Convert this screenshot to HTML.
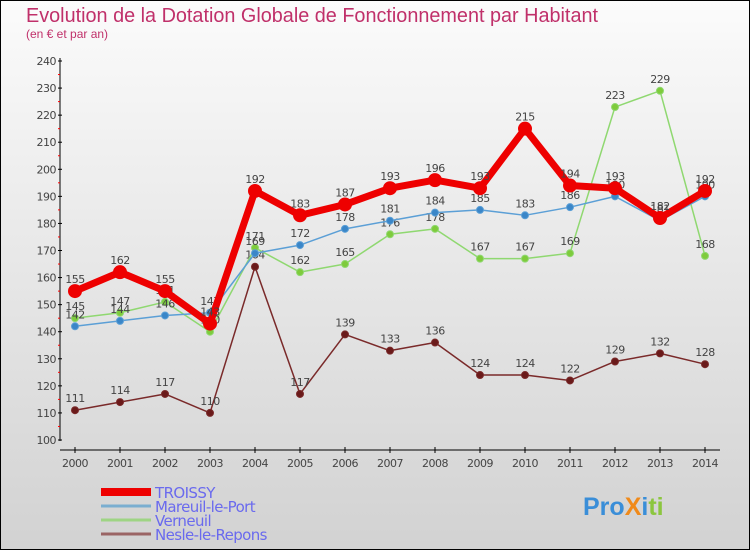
<!DOCTYPE html>
<html><head><meta charset="utf-8"><style>
body{margin:0}
#c{width:750px;height:550px;position:relative;box-sizing:border-box;border:1px solid #000;background:linear-gradient(#fbfbfb,#d2d2d2);font-family:"DejaVu Sans","Liberation Sans",sans-serif;overflow:hidden}
</style></head><body>
<div id="c">
<svg id="s" width="750" height="550" style="position:absolute;left:-1px;top:-1px">
<text x="26" y="22" font-size="20" fill="#c0306a" font-family="Liberation Sans, sans-serif" textLength="572" lengthAdjust="spacingAndGlyphs">Evolution de la Dotation Globale de Fonctionnement par Habitant</text>
<text x="26" y="38" font-size="12" fill="#c0306a" font-family="Liberation Sans, sans-serif">(en € et par an)</text>
</svg>
</div>
<script>
const years=[2000,2001,2002,2003,2004,2005,2006,2007,2008,2009,2010,2011,2012,2013,2014];
const troissy=[155,162,155,143,192,183,187,193,196,193,215,194,193,182,192];
const mareuil=[142,144,146,147,169,172,178,181,184,185,183,186,190,181,190];
const verneuil=[145,147,151,140,171,162,165,176,178,167,167,169,223,229,168];
const nesle=[111,114,117,110,164,117,139,133,136,124,124,122,129,132,128];
const yTicks=[100,110,120,130,140,150,160,170,180,190,200,210,220,230,240];
const s=document.getElementById('s');const NS='http://www.w3.org/2000/svg';
const X=i=>75+i*45, Y=v=>440-(v-100)*379/140;
function el(t,a,p){const e=document.createElementNS(NS,t);for(const k in a)e.setAttribute(k,a[k]);(p||s).appendChild(e);return e;}
const ax=el('g',{});


el('line',{x1:60,y1:58,x2:60,y2:441,stroke:'#000'},ax);
el('line',{x1:60,y1:450,x2:720,y2:450,stroke:'#000'},ax);
yTicks.forEach(v=>{el('line',{x1:58,x2:62,y1:Y(v),y2:Y(v),stroke:'#000'},ax);
 if(v<240)el('line',{x1:58,x2:60,y1:Y(v+5),y2:Y(v+5),stroke:'#f00'},ax);
 const t=el('text',{x:56,y:Y(v)+4,'text-anchor':'end','font-size':11,fill:'#444','letter-spacing':'-0.5'},ax);t.textContent=v;
 
 });
years.forEach((y,i)=>{el('line',{x1:X(i),x2:X(i),y1:447,y2:453,stroke:'#000'},ax);
 const t=el('text',{x:X(i),y:467,'text-anchor':'middle','font-size':11,fill:'#444','letter-spacing':'-0.5'},ax);t.textContent=y;
 
 });
function series(d,color,w,r,dot,name){const g=el('g',{});
 
 
 el('polyline',{points:d.map((v,i)=>X(i)+','+Y(v)).join(' '),fill:'none',stroke:color,'stroke-width':w,'stroke-linejoin':'round'},g);
 d.forEach((v,i)=>{const c=el('circle',{cx:X(i),cy:Y(v),r:r,fill:dot,stroke:color,'stroke-width':1},g);
  
  
  const t=el('text',{x:X(i),y:Y(v)-8,'text-anchor':'middle','font-size':11,fill:'#444','letter-spacing':'-0.5'},g);t.textContent=v;
  
  });}
series(nesle,'#7a2a2a',1.5,3.5,'#6a1a1a','series-nesle');
series(verneuil,'#8fd870',1.5,3.5,'#7ecb3c','series-verneuil');
series(mareuil,'#5b9fd6',1.5,3.5,'#3a86c8','series-mareuil');
series(troissy,'#ee0000',7,6.5,'#ee0000','series-troissy');
const leg=[['TROISSY','#ee0000',8],['Mareuil-le-Port','#7aaed0',3],['Verneuil','#9ed484',3],['Nesle-le-Repons','#9a6464',3]];
leg.forEach((l,i)=>{const y=492+i*14;const g=el('g',{});
 
 
 el('line',{x1:101,x2:151,y1:y,y2:y,stroke:l[1],'stroke-width':l[2]},g);
 const t=el('text',{x:155,y:y+6,'font-size':15,fill:'#6a6aee','letter-spacing':'-0.6'},g);t.textContent=l[0];});
const p=el('text',{x:583,y:515,'font-size':25,'font-weight':'bold','font-family':'Liberation Sans, sans-serif',fill:'#3a8ed8'});
p.innerHTML='<tspan fill="#3a8ed8">Pro</tspan><tspan fill="#f08a1a">X</tspan><tspan fill="#3a8ed8">i</tspan><tspan fill="#8cc63f">ti</tspan>';


</script>
</body></html>
